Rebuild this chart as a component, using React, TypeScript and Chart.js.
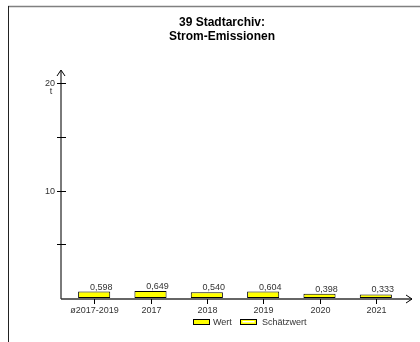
import React, { useEffect, useRef } from "react";
import { Chart, registerables } from "chart.js";

Chart.register(...registerables);

const titleLines = ["39 Stadtarchiv:", "Strom-Emissionen"];
const categories = ["ø2017-2019", "2017", "2018", "2019", "2020", "2021"];
const values = [0.598, 0.649, 0.54, 0.604, 0.398, 0.333];
const valueLabels = ["0,598", "0,649", "0,540", "0,604", "0,398", "0,333"];
const yTicks = [0, 5, 10, 15, 20];
const yTickLabels = ["", "", "10", "", "20"];
const yUnit = "t";
const legendLabels = ["Wert", "Schätzwert"];

const FONT = "'Liberation Sans', Arial, sans-serif";

const overlay = {
  id: "overlay",
  afterDatasetsDraw(chart: any) {
    const ctx = chart.ctx as CanvasRenderingContext2D;
    const xs = chart.scales.x;
    const ys = chart.scales.y;
    const axisX = 61;
    const axisY = 299;
    ctx.save();

    // frame
    ctx.strokeStyle = "#808080";
    ctx.lineWidth = 1.5;
    ctx.beginPath();
    ctx.moveTo(8, 6.5);
    ctx.lineTo(420, 6.5);
    ctx.stroke();
    ctx.strokeStyle = "#222";
    ctx.lineWidth = 1;
    ctx.beginPath();
    ctx.moveTo(8.5, 6);
    ctx.lineTo(8.5, 342);
    ctx.stroke();

    // title
    ctx.fillStyle = "#000";
    ctx.font = `bold 12px ${FONT}`;
    ctx.textAlign = "center";
    ctx.textBaseline = "middle";
    titleLines.forEach((t, i) => ctx.fillText(t, 222, 23 + i * 14));

    // y axis
    ctx.strokeStyle = "#7a7a7a";
    ctx.lineWidth = 2;
    ctx.beginPath();
    ctx.moveTo(axisX, 71);
    ctx.lineTo(axisX, axisY);
    ctx.stroke();
    ctx.strokeStyle = "#000";
    ctx.lineWidth = 1;
    ctx.beginPath();
    ctx.moveTo(axisX - 4, 76);
    ctx.lineTo(axisX, 70);
    ctx.lineTo(axisX + 4, 76);
    ctx.stroke();

    ctx.font = `9px ${FONT}`;
    ctx.fillStyle = "#333";
    ctx.textAlign = "right";
    yTicks.forEach((v, i) => {
      const py = Math.round(ys.getPixelForValue(v)) + 0.5;
      if (v !== 0) {
        ctx.strokeStyle = "#000";
        ctx.beginPath();
        ctx.moveTo(axisX - 4, py);
        ctx.lineTo(axisX + 5, py);
        ctx.stroke();
      }
      if (yTickLabels[i]) ctx.fillText(yTickLabels[i], axisX - 6, py);
    });
    ctx.textAlign = "center";
    ctx.fillText(yUnit, 51, ys.getPixelForValue(20) + 9);

    // x axis
    ctx.strokeStyle = "#333";
    ctx.lineWidth = 1.5;
    ctx.beginPath();
    ctx.moveTo(axisX, axisY);
    ctx.lineTo(412, axisY);
    ctx.stroke();
    ctx.strokeStyle = "#000";
    ctx.lineWidth = 1;
    ctx.beginPath();
    ctx.moveTo(406, axisY - 4);
    ctx.lineTo(412, axisY);
    ctx.lineTo(406, axisY + 4);
    ctx.stroke();

    categories.forEach((c, i) => {
      const px = Math.round(xs.getPixelForValue(i)) + 0.5;
      ctx.beginPath();
      ctx.moveTo(px, axisY);
      ctx.lineTo(px, axisY + 5);
      ctx.stroke();
      ctx.fillStyle = "#333";
      ctx.textAlign = "center";
      ctx.textBaseline = "middle";
      ctx.fillText(c, px, 311);
    });

    // value labels
    const meta = chart.getDatasetMeta(0);
    meta.data.forEach((bar: any, i: number) => {
      ctx.fillStyle = "#333";
      ctx.textAlign = "center";
      ctx.textBaseline = "alphabetic";
      ctx.fillText(valueLabels[i], bar.x + 7, bar.y - 2);
    });

    // legend
    ctx.lineWidth = 1;
    ctx.fillStyle = "#ffff00";
    ctx.fillRect(193.5, 319.5, 16, 5);
    ctx.strokeStyle = "#000";
    ctx.strokeRect(193.5, 319.5, 16, 5);
    ctx.fillStyle = "#333";
    ctx.textAlign = "left";
    ctx.textBaseline = "middle";
    ctx.fillText(legendLabels[0], 213, 322.5);

    ctx.fillStyle = "#ffff00";
    ctx.fillRect(240.5, 319.5, 16, 5);
    ctx.fillStyle = "#fff";
    ctx.fillRect(242.5, 321, 12, 1.5);
    ctx.strokeStyle = "#000";
    ctx.strokeRect(240.5, 319.5, 16, 5);
    ctx.fillStyle = "#333";
    ctx.fillText(legendLabels[1], 262, 322.5);

    ctx.restore();
  },
};

export default function App() {
  const ref = useRef<HTMLCanvasElement>(null);
  useEffect(() => {
    if (!ref.current) return;
    const chart = new Chart(ref.current, {
      type: "bar",
      data: {
        labels: categories,
        datasets: [
          {
            label: legendLabels[0],
            data: values,
            backgroundColor: "#ffff00",
            borderColor: "#000",
            borderWidth: 1,
            borderSkipped: false,
            categoryPercentage: 1,
            barPercentage: 0.57,
          },
        ],
      },
      options: {
        responsive: false,
        animation: false,
        layout: { padding: { left: 66, right: 16, top: 83, bottom: 44 } },
        plugins: {
          legend: { display: false },
          title: { display: false },
          tooltip: { enabled: false },
        },
        scales: {
          x: { display: false },
          y: { display: false, min: 0, max: 20 },
        },
      },
      plugins: [overlay],
    });
    return () => chart.destroy();
  }, []);
  return (
    <div style={{ position: "absolute", left: 0, top: 0, width: 420, height: 342, background: "#fff" }}>
      <canvas ref={ref} width={420} height={342} style={{ display: "block" }} />
    </div>
  );
}
